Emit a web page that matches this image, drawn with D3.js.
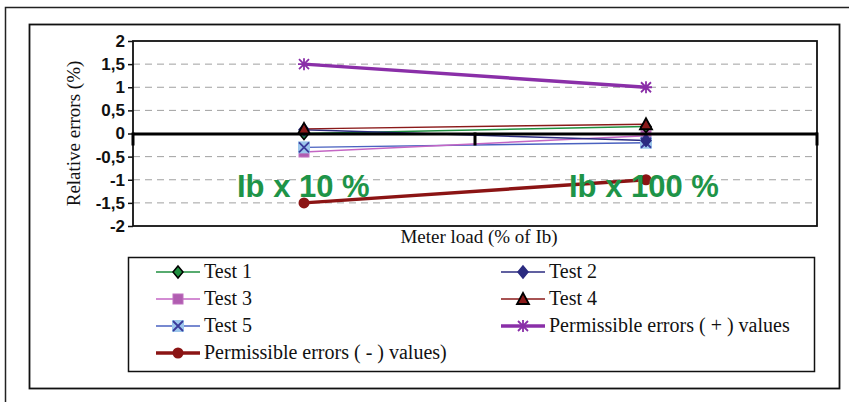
<!DOCTYPE html>
<html><head><meta charset="utf-8">
<script src="https://cdn.jsdelivr.net/npm/d3@7"></script>
<style>body{margin:0;background:#fff}svg{display:block}</style>
</head><body>
<svg id="c" width="849" height="403"></svg>
<script>
const categories = ["Ib x 10 %", "Ib x 100 %"];
const yTicks = [2, 1.5, 1, 0.5, 0, -0.5, -1, -1.5, -2];
const test1 = [0.0, 0.15];
const test2 = [0.08, -0.15];
const test3 = [-0.4, -0.05];
const test4 = [0.1, 0.2];
const test5 = [-0.3, -0.2];
const permPlus = [1.5, 1.0];
const permMinus = [-1.5, -1.0];
const seriesNames = ["Test 1","Test 2","Test 3","Test 4","Test 5","Permissible errors ( + ) values","Permissible errors ( - ) values)"];

const SERIF = "Liberation Serif";
const SANS = "Liberation Sans";

const series = [
  {name: seriesNames[0], values: test1, color: "#1f8f3f", w: 1.5, marker: "diamond", fill: "#1f8f3f", stroke: "#000"},
  {name: seriesNames[1], values: test2, color: "#2b2b80", w: 1.5, marker: "diamond", fill: "#2b2b80", stroke: "#2b2b80"},
  {name: seriesNames[2], values: test3, color: "#c466c4", w: 1.5, marker: "square", fill: "#b05db0", stroke: "#b05db0"},
  {name: seriesNames[3], values: test4, color: "#8b1a1a", w: 1.5, marker: "triangle", fill: "#8b1a1a", stroke: "#000"},
  {name: seriesNames[4], values: test5, color: "#4a62c0", w: 1.5, marker: "x", fill: "#9cc6ec", stroke: "#3a3a9a"},
  {name: seriesNames[5], values: permPlus, color: "#8a2fa8", w: 3.5, marker: "star", fill: "none", stroke: "#8a2fa8"},
  {name: seriesNames[6], values: permMinus, color: "#8b1414", w: 3.5, marker: "circle", fill: "#8b1414", stroke: "#8b1414"}
];

const svg = d3.select("#c");
// frames
svg.append("path").attr("d","M5.5,402 L5.5,7.5 L849,7.5").attr("fill","none").attr("stroke","#222").attr("stroke-width",1.5);
svg.append("rect").attr("x",29.5).attr("y",24.5).attr("width",810).attr("height",364).attr("fill","#fff").attr("stroke","#111").attr("stroke-width",1.8);

const L = 133, R = 817, T = 41, B = 226;
const x = d3.scaleBand().domain(categories).range([L, R]).paddingInner(0).paddingOuter(0);
const y = d3.scaleLinear().domain([-2, 2]).range([B, T]);
const cx = c => x(c) + x.bandwidth()/2;

const g = svg.append("g");
// gridlines
g.selectAll("line.grid").data(yTicks.filter(v => v !== 0 && Math.abs(v) !== 2)).enter().append("line")
  .attr("x1", L).attr("x2", R).attr("y1", d => y(d)).attr("y2", d => y(d))
  .attr("stroke", "#a0a0a0").attr("stroke-width", 1).attr("stroke-dasharray", "7,5");
// plot border
g.append("rect").attr("x", L).attr("y", T).attr("width", R-L).attr("height", B-T).attr("fill","none").attr("stroke","#111").attr("stroke-width",1.8);

// y axis
const yAxis = d3.axisLeft(y).tickValues(yTicks).tickSize(5).tickPadding(3)
  .tickFormat(d => String(d).replace(".", ","));
const ya = svg.append("g").attr("transform", `translate(${L},0)`).call(yAxis)
  .attr("font-family", SANS).attr("font-size", 17).attr("font-weight", "bold");
ya.select(".domain").remove();
ya.selectAll("line").attr("stroke","#111").attr("stroke-width",1.5);
ya.selectAll("text").attr("fill","#111");

// zero axis line with category boundary ticks
const xAxis = d3.axisBottom(x).tickSize(0).tickFormat("");
const xa = svg.append("g").attr("transform", `translate(0,${y(0)})`).call(xAxis);
xa.select(".domain").attr("stroke","#000").attr("stroke-width",3);
const bounds = [L, ...categories.slice(1).map(c => x(c)), R];
xa.selectAll("line.bt").data(bounds).enter().append("line").attr("class","bt")
  .attr("x1", d => d).attr("x2", d => d).attr("y1", -1).attr("y2", 12)
  .attr("stroke","#000").attr("stroke-width",3);

// lines
const line = d3.line().x((d,i) => cx(categories[i])).y(d => y(d));
const drawOrder = [5, 6, 4, 2, 0, 1, 3];
drawOrder.forEach(k => {
  const s = series[k];
  g.append("path").datum(s.values).attr("d", line).attr("fill","none").attr("stroke", s.color).attr("stroke-width", s.w);
});

function marker(sel, s, px, py) {
  const m = sel.append("g").attr("transform", `translate(${px},${py})`);
  if (s.marker === "diamond") {
    m.append("path").attr("d","M0,-6 L5,0 L0,6 L-5,0 Z").attr("fill", s.fill).attr("stroke", s.stroke).attr("stroke-width",1.5);
  } else if (s.marker === "square") {
    m.append("rect").attr("x",-5).attr("y",-5).attr("width",10).attr("height",10).attr("fill", s.fill).attr("stroke", "#c070c0").attr("stroke-width",1);
  } else if (s.marker === "triangle") {
    m.append("path").attr("d","M0,-6 L6,5 L-6,5 Z").attr("fill", s.fill).attr("stroke", s.stroke).attr("stroke-width",1.8);
  } else if (s.marker === "x") {
    m.append("rect").attr("x",-6).attr("y",-6).attr("width",12).attr("height",12).attr("fill", s.fill);
    m.append("path").attr("d","M-5,-5 L5,5 M5,-5 L-5,5").attr("stroke", s.stroke).attr("stroke-width",1.8);
  } else if (s.marker === "star") {
    m.append("path").attr("d","M-6,0 L6,0 M0,-6 L0,6 M-5,-5 L5,5 M5,-5 L-5,5").attr("stroke", s.stroke).attr("stroke-width",1.8);
  } else if (s.marker === "circle") {
    m.append("circle").attr("r",5.5).attr("fill", s.fill);
  }
}
const markerOrder = [5, 6, 2, 4, 0, 1, 3];
markerOrder.forEach(k => {
  const s = series[k];
  s.values.forEach((v, i) => marker(g, s, cx(categories[i]), y(v)));
});

// axis titles
svg.append("text").attr("transform", `translate(80,${(T+B)/2}) rotate(-90)`).attr("text-anchor","middle")
  .attr("font-family", SERIF).attr("font-size", 19).attr("fill","#111")
  .text("Relative errors (%)");
svg.append("text").attr("x", 479).attr("y", 243).attr("text-anchor","middle")
  .attr("font-family", SERIF).attr("font-size", 19).attr("fill","#111")
  .text("Meter load (% of Ib)");

// category annotations
const annOffsets = [-67, -77];
svg.selectAll("text.ann").data(categories).enter().append("text").attr("class","ann")
  .attr("x", (d,i) => cx(d) + annOffsets[i]).attr("y", 197)
  .attr("font-family", SANS).attr("font-weight","bold").attr("font-size", 31)
  .attr("fill","#1e9448").text(d => d);

// legend
svg.append("rect").attr("x",128.5).attr("y",257.5).attr("width",686).attr("height",114).attr("fill","#fff").attr("stroke","#111").attr("stroke-width",1.5);
const legPos = [[156,272],[501,272],[156,299],[501,299],[156,326],[501,326],[156,353]];
series.forEach((s, k) => {
  const [lx, ly] = legPos[k];
  const lg = svg.append("g");
  lg.append("line").attr("x1", lx).attr("x2", lx+44).attr("y1", ly).attr("y2", ly).attr("stroke", s.color).attr("stroke-width", s.w);
  marker(lg, s, lx+22, ly);
  lg.append("text").attr("x", lx+48).attr("y", ly+6)
    .attr("font-family", SERIF).attr("font-size", 20).attr("fill","#111")
    .text(s.name);
});
</script>
</body></html>
